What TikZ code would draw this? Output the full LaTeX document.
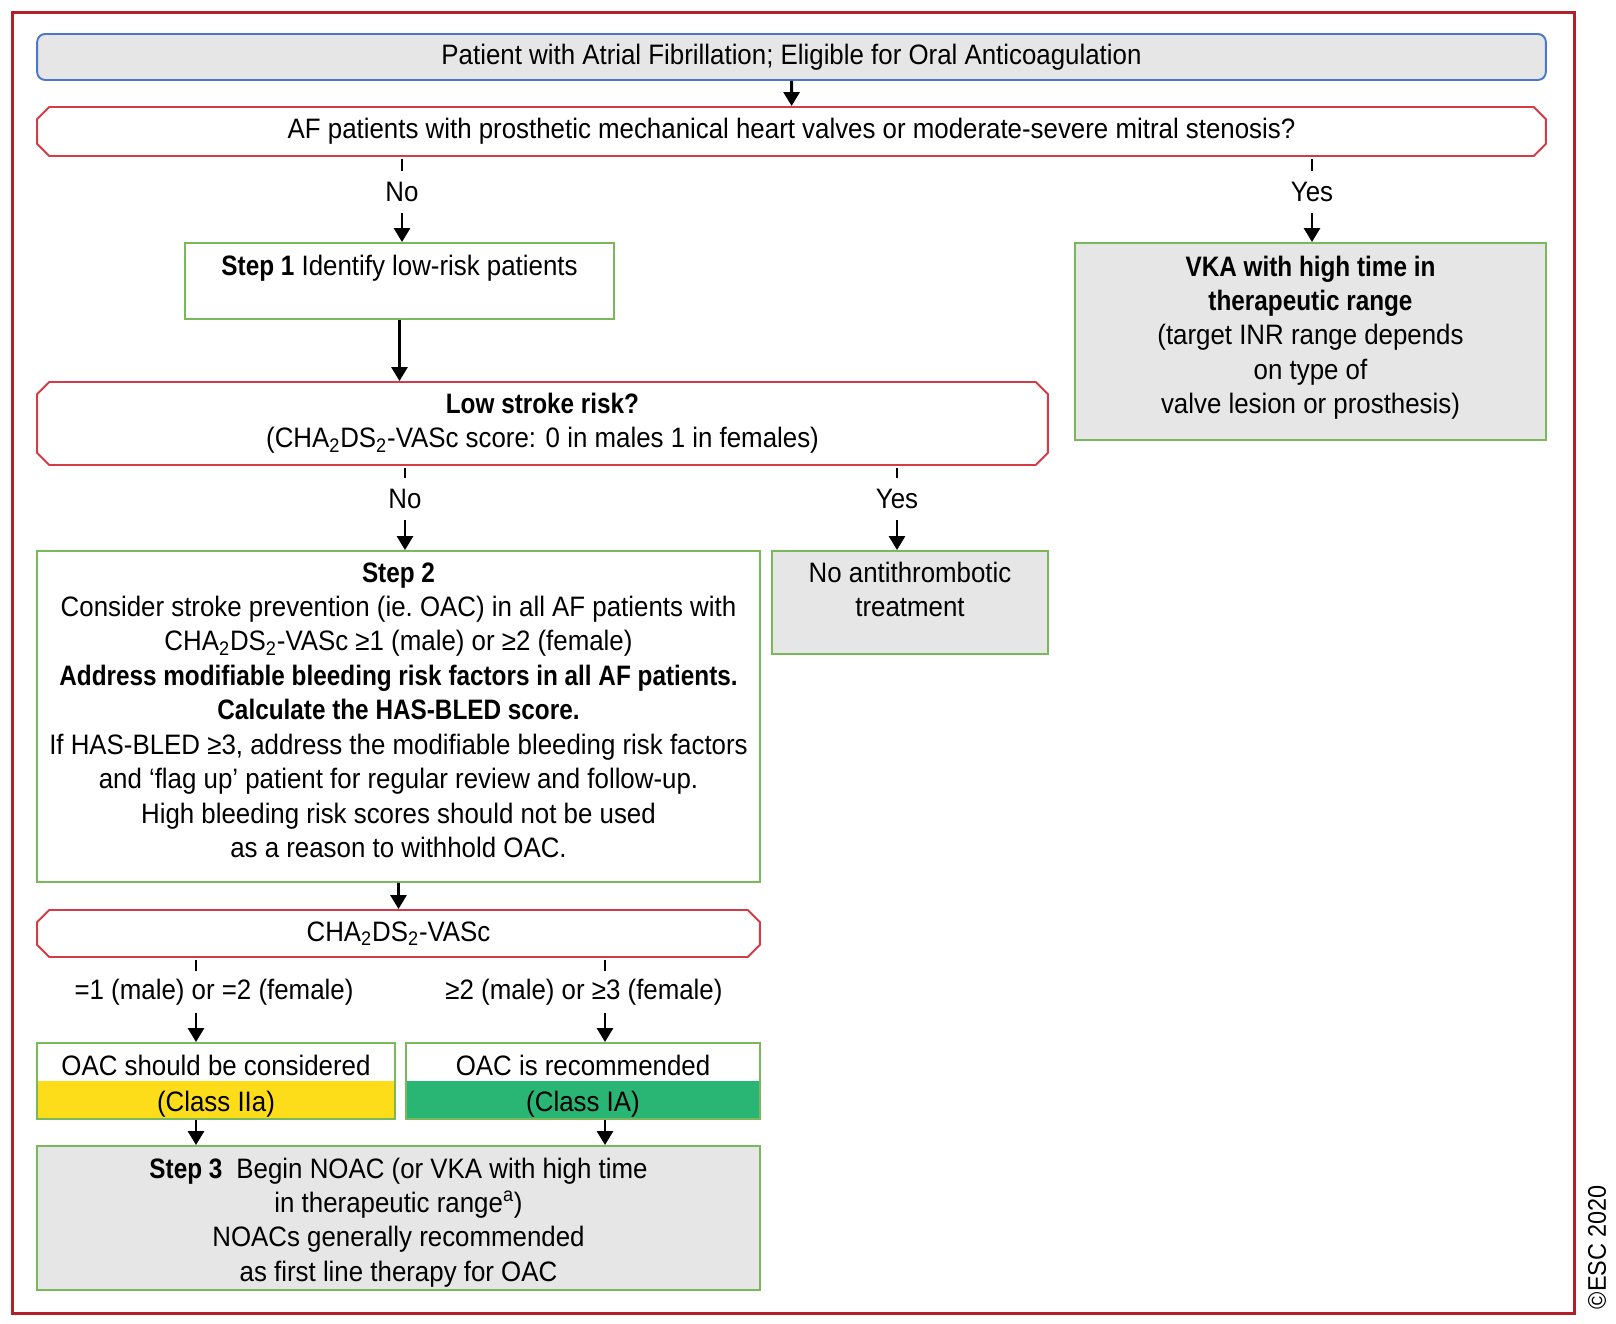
\documentclass[tikz,border=0pt]{standalone}
\usepackage{fontspec}
\setmainfont[FakeStretch=0.92, BoldFeatures={FakeStretch=0.865}]{Liberation Sans}
\usetikzlibrary{arrows.meta,shapes.misc,calc}

\definecolor{framered}{RGB}{178,32,42}
\definecolor{askred}{RGB}{214,58,68}
\definecolor{startblue}{RGB}{72,118,208}
\definecolor{stepgreen}{RGB}{122,184,92}
\definecolor{boxgrey}{RGB}{230,230,230}
\definecolor{classyellow}{RGB}{253,221,26}
\definecolor{classgreen}{RGB}{41,181,116}

\tikzset{
	every node/.style={font=\fontsize{16pt}{19.6pt}\selectfont, align=center},
	startbox/.style={draw=startblue, fill=boxgrey, rounded corners=0.16cm, line width=1.1pt},
	question/.style={draw=askred, fill=white, line width=1.1pt, chamfered rectangle, chamfered rectangle xsep=0.12cm, inner sep=0pt},
	stepbox/.style={draw=stepgreen, fill=white, line width=1.1pt, align=flush center},
	greybox/.style={stepbox, fill=boxgrey},
	classbox/.style={stepbox, path picture={\fill[#1] (path picture bounding box.west) rectangle (path picture bounding box.south east);}},
	answer/.style={minimum height=0.84cm, inner sep=0pt},
	tick/.style={line width=0.058cm},
	arr/.style={tick, -{Triangle[length=0.28cm,width=0.32cm]}}
}

\begin{document}
\begin{tikzpicture}[x=0.02cm, y=-0.02cm]
	\useasboundingbox (0,0) rectangle (1616,1324);
	\draw[framered, line width=0.06cm] (12.4,12.4) rectangle (1574,1313);

	% top of the chart
	\node[startbox, minimum width=30.18cm, minimum height=0.92cm] (patient) at (791.5,57) {Patient with Atrial Fibrillation; Eligible for Oral Anticoagulation};
	\node[question, minimum width=30.18cm, minimum height=0.98cm] (valve) at (791.5,131.5) {AF patients with prosthetic mechanical heart valves or moderate-severe mitral stenosis?};
	\node[answer] (valveno) at (402,192) {No};
	\node[answer] (valveyes) at (1312,192) {Yes};
	\node[stepbox, minimum width=8.58cm, inner ysep=0pt, text height=0.66cm, text depth=0.86cm] (step1) at (399.5,281) {\textbf{Step 1} Identify low-risk patients};
	\node[greybox, minimum width=9.42cm, text width=8.9cm, inner ysep=0pt, text height=0.66cm, text depth=3.28cm] (vka) at (1310.5,341.5) {\textbf{VKA with high time in}\\\textbf{therapeutic range}\\(target INR range depends\\on type of\\valve lesion or prosthesis)};

	% stroke risk
	\node[question, minimum width=20.22cm, minimum height=1.66cm] (lowrisk) at (542.5,423.5) {\textbf{Low stroke risk?}\\(CHA\textsubscript{2}DS\textsubscript{2}-VASc score: 0 in males 1 in females)};
	\node[answer] (riskno) at (405,499) {No};
	\node[answer] (riskyes) at (897,499) {Yes};
	\node[stepbox, minimum width=14.46cm, text width=14cm, inner ysep=0pt, text height=0.62cm, text depth=6.0cm] (step2) at (398.5,716.5) {\textbf{Step 2}\\Consider stroke prevention (ie.\ OAC) in all AF patients with\\CHA\textsubscript{2}DS\textsubscript{2}-VASc ≥1 (male) or ≥2 (female)\\\textbf{Address modifiable bleeding risk factors in all AF patients.}\\\textbf{Calculate the HAS-BLED score.}\\If HAS-BLED ≥3, address the modifiable bleeding risk factors\\and ‘flag up’ patient for regular review and follow-up.\\High bleeding risk scores should not be used\\as a reason to withhold OAC.};
	\node[greybox, minimum width=5.52cm, text width=5cm, inner ysep=0pt, text height=0.62cm, text depth=1.44cm] (noat) at (910,602.5) {No antithrombotic\\treatment};

	% score and treatment
	\node[question, minimum width=14.46cm, minimum height=0.94cm] (score) at (398.5,933.5) {CHA\textsubscript{2}DS\textsubscript{2}-VASc};
	\node[answer] (scorelow) at (214,992) {=1 (male) or =2 (female)};
	\node[answer] (scorehigh) at (584,992) {≥2 (male) or ≥3 (female)};
	\coordinate (lowx) at (196,0);
	\coordinate (highx) at (605,0);
	\node[classbox=classyellow, minimum width=7.16cm, text width=6.6cm, inner ysep=0pt, text height=0.64cm, text depth=0.88cm] (consider) at (216,1081) {OAC should be considered\\[0.05cm](Class IIa)};
	\node[classbox=classgreen, minimum width=7.08cm, text width=6.6cm, inner ysep=0pt, text height=0.64cm, text depth=0.88cm] (recommend) at (583,1081) {OAC is recommended\\[0.05cm](Class IA)};
	\node[greybox, minimum width=14.46cm, text width=14cm, inner ysep=0pt, text height=0.64cm, text depth=2.24cm] (step3) at (398.5,1218) {\textbf{Step 3}\enspace Begin NOAC (or VKA with high time\\in therapeutic range\textsuperscript{a})\\NOACs generally recommended\\as first line therapy for OAC};

	\node[rotate=90, font=\fontsize{14.5pt}{17pt}\selectfont] (esc) at (1597,1247) {©ESC 2020};

	% connectors
	\draw[arr] (patient) -- (valve);
	\draw[tick] ($(valve.south -| valveno)+(0,2)$) -- (valveno.north);
	\draw[arr] (valveno.south) -- (valveno.south |- step1.north);
	\draw[tick] ($(valve.south -| valveyes)+(0,2)$) -- (valveyes.north);
	\draw[arr] (valveyes.south) -- (valveyes.south |- vka.north);
	\draw[arr] (step1.south) -- (step1.south |- lowrisk.north);
	\draw[tick] ($(lowrisk.south -| riskno)+(0,2)$) -- (riskno.north);
	\draw[arr] (riskno.south) -- (riskno.south |- step2.north);
	\draw[tick] ($(lowrisk.south -| riskyes)+(0,2)$) -- (riskyes.north);
	\draw[arr] (riskyes.south) -- (riskyes.south |- noat.north);
	\draw[arr] (step2) -- (score);
	\draw[tick] ($(score.south -| lowx)+(0,2)$) -- (scorelow.north -| lowx);
	\draw[arr] (scorelow.south -| lowx) -- (consider.north -| lowx);
	\draw[tick] ($(score.south -| highx)+(0,2)$) -- (scorehigh.north -| highx);
	\draw[arr] (scorehigh.south -| highx) -- (recommend.north -| highx);
	\draw[arr] (consider.south -| lowx) -- (step3.north -| lowx);
	\draw[arr] (recommend.south -| highx) -- (step3.north -| highx);
\end{tikzpicture}
\end{document}
